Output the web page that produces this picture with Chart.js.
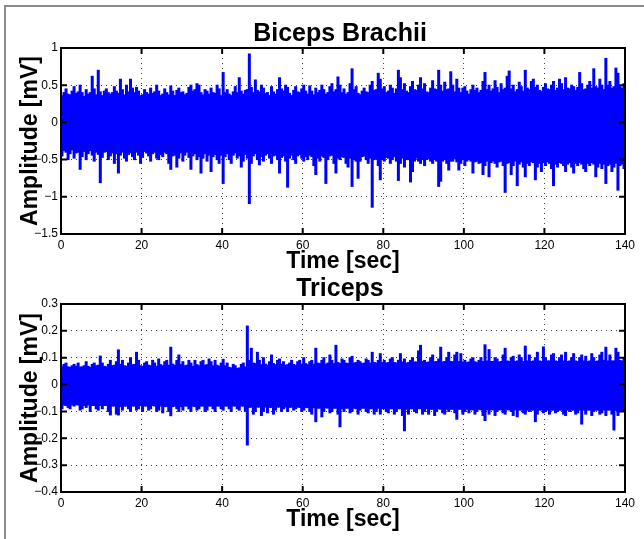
<!DOCTYPE html>
<html>
<head>
<meta charset="utf-8">
<title>Biceps / Triceps EMG</title>
<script src="https://cdn.jsdelivr.net/npm/chart.js@4.4.0/dist/chart.umd.min.js"></script>
<style>
html, body { margin: 0; padding: 0; background: #fff; overflow: hidden; width: 644px; height: 539px; }
#frame { position: absolute; left: 4px; top: 5px; width: 700px; height: 600px;
         border-left: 2px solid #8a8a8a; border-top: 2px solid #8a8a8a; }
canvas { position: absolute; left: 0; }
#chartTop { top: 0; }
#chartBot { top: 260px; }
</style>
</head>
<body>
<div id="frame"></div>
<canvas id="chartTop" width="680" height="280"></canvas>
<canvas id="chartBot" width="680" height="279"></canvas>
<script>
// 눈금값
var timeTicks = [0, 20, 40, 60, 80, 100, 120, 140];
var bicepsTicks = [-1.5, -1, -0.5, 0, 0.5, 1];
var tricepsTicks = [-0.4, -0.3, -0.2, -0.1, 0, 0.1, 0.2, 0.3];
var binSec = 0.5; // 구간 길이(초)

// 0.5초 구간별 최대/최소 (Biceps Brachii)
var bicepsHi = [
	0.36, 0.40, 0.45, 0.38, 0.37, 0.42, 0.48, 0.39, 0.41, 0.50, 0.40, 0.35, 0.44, 0.38, 0.40, 0.62, 0.45, 0.37, 0.70, 0.41,
	0.36, 0.42, 0.45, 0.40, 0.38, 0.40, 0.48, 0.42, 0.39, 0.58, 0.44, 0.37, 0.50, 0.41, 0.58, 0.46, 0.40, 0.47, 0.42, 0.36,
	0.37, 0.44, 0.40, 0.38, 0.46, 0.39, 0.41, 0.50, 0.42, 0.36, 0.38, 0.45, 0.40, 0.37, 0.49, 0.42, 0.36, 0.43, 0.46, 0.40,
	0.41, 0.37, 0.39, 0.47, 0.50, 0.42, 0.44, 0.52, 0.50, 0.40, 0.37, 0.44, 0.42, 0.38, 0.46, 0.40, 0.39, 0.50, 0.45, 0.36,
	0.67, 0.40, 0.44, 0.38, 0.36, 0.41, 0.48, 0.40, 0.60, 0.42, 0.38, 0.43, 0.44, 0.92, 0.47, 0.40, 0.57, 0.43, 0.41, 0.50,
	0.46, 0.39, 0.40, 0.36, 0.48, 0.41, 0.38, 0.44, 0.60, 0.45, 0.42, 0.50, 0.47, 0.39, 0.36, 0.43, 0.48, 0.41, 0.40, 0.45,
	0.50, 0.42, 0.38, 0.49, 0.42, 0.37, 0.46, 0.40, 0.43, 0.50, 0.44, 0.38, 0.40, 0.48, 0.52, 0.41, 0.44, 0.61, 0.50, 0.40,
	0.45, 0.38, 0.40, 0.52, 0.72, 0.44, 0.48, 0.39, 0.37, 0.42, 0.46, 0.41, 0.40, 0.50, 0.55, 0.43, 0.44, 0.66, 0.58, 0.45,
	0.48, 0.40, 0.42, 0.50, 0.46, 0.39, 0.45, 0.70, 0.60, 0.44, 0.52, 0.42, 0.40, 0.48, 0.55, 0.44, 0.43, 0.50, 0.60, 0.45,
	0.52, 0.41, 0.40, 0.46, 0.56, 0.45, 0.44, 0.70, 0.50, 0.42, 0.54, 0.44, 0.45, 0.68, 0.50, 0.41, 0.58, 0.46, 0.40, 0.46,
	0.48, 0.42, 0.38, 0.44, 0.50, 0.43, 0.46, 0.40, 0.43, 0.55, 0.67, 0.44, 0.50, 0.42, 0.45, 0.56, 0.47, 0.40, 0.52, 0.44,
	0.46, 0.62, 0.69, 0.45, 0.50, 0.41, 0.44, 0.54, 0.48, 0.42, 0.70, 0.46, 0.44, 0.55, 0.58, 0.47, 0.50, 0.43, 0.42, 0.47,
	0.52, 0.45, 0.44, 0.50, 0.55, 0.43, 0.46, 0.58, 0.52, 0.44, 0.60, 0.46, 0.45, 0.50, 0.48, 0.43, 0.47, 0.67, 0.52, 0.44,
	0.45, 0.50, 0.55, 0.46, 0.72, 0.48, 0.46, 0.58, 0.50, 0.44, 0.86, 0.50, 0.55, 0.46, 0.48, 0.73, 0.66, 0.50, 0.46, 0.52
];
var bicepsLo = [
	-0.45, -0.38, -0.40, -0.50, -0.42, -0.37, -0.48, -0.41, -0.40, -0.63, -0.46, -0.39, -0.50, -0.42, -0.38, -0.44, -0.52, -0.40, -0.43, -0.81,
	-0.47, -0.40, -0.39, -0.50, -0.45, -0.41, -0.55, -0.42, -0.68, -0.44, -0.40, -0.48, -0.52, -0.43, -0.41, -0.46, -0.50, -0.40, -0.44, -0.55,
	-0.47, -0.39, -0.41, -0.45, -0.52, -0.42, -0.40, -0.48, -0.50, -0.43, -0.46, -0.40, -0.42, -0.55, -0.63, -0.45, -0.44, -0.60, -0.48, -0.41,
	-0.52, -0.44, -0.40, -0.47, -0.63, -0.45, -0.42, -0.50, -0.46, -0.68, -0.48, -0.42, -0.52, -0.44, -0.66, -0.46, -0.43, -0.50, -0.55, -0.44,
	-0.82, -0.46, -0.42, -0.50, -0.55, -0.44, -0.41, -0.48, -0.45, -0.60, -0.52, -0.43, -0.48, -1.09, -0.55, -0.45, -0.42, -0.50, -0.57, -0.46,
	-0.52, -0.44, -0.42, -0.48, -0.55, -0.45, -0.44, -0.50, -0.68, -0.47, -0.45, -0.52, -0.87, -0.48, -0.44, -0.50, -0.55, -0.45, -0.43, -0.48,
	-0.52, -0.46, -0.50, -0.44, -0.46, -0.58, -0.70, -0.48, -0.52, -0.45, -0.47, -0.82, -0.50, -0.45, -0.44, -0.55, -0.68, -0.48, -0.50, -0.46,
	-0.47, -0.55, -0.60, -0.48, -0.86, -0.50, -0.52, -0.75, -0.52, -0.46, -0.45, -0.50, -0.55, -0.48, -1.14, -0.50, -0.49, -0.58, -0.77, -0.50,
	-0.52, -0.47, -0.48, -0.55, -0.50, -0.46, -0.52, -0.78, -0.55, -0.48, -0.60, -0.50, -0.50, -0.80, -0.66, -0.52, -0.48, -0.52, -0.55, -0.50,
	-0.58, -0.50, -0.49, -0.52, -0.55, -0.50, -0.52, -0.86, -0.79, -0.52, -0.50, -0.55, -0.64, -0.52, -0.52, -0.49, -0.53, -0.64, -0.55, -0.50,
	-0.58, -0.52, -0.50, -0.52, -0.68, -0.53, -0.52, -0.55, -0.54, -0.70, -0.58, -0.52, -0.73, -0.54, -0.52, -0.55, -0.60, -0.53, -0.52, -0.58,
	-0.94, -0.55, -0.54, -0.70, -0.58, -0.52, -0.85, -0.56, -0.53, -0.60, -0.73, -0.55, -0.58, -0.53, -0.54, -0.77, -0.60, -0.55, -0.66, -0.54,
	-0.58, -0.53, -0.55, -0.62, -0.85, -0.56, -0.60, -0.54, -0.55, -0.58, -0.66, -0.56, -0.54, -0.60, -0.68, -0.55, -0.58, -0.54, -0.56, -0.62,
	-0.66, -0.55, -0.58, -0.54, -0.56, -0.73, -0.60, -0.55, -0.62, -0.56, -0.82, -0.58, -0.56, -0.66, -0.60, -0.55, -0.91, -0.58, -0.56, -0.62
];

// 0.5초 구간별 최대/최소 (Triceps)
var tricepsHi = [
	0.068, 0.075, 0.080, 0.066, 0.064, 0.070, 0.075, 0.068, 0.080, 0.065, 0.066, 0.070, 0.085, 0.068, 0.064, 0.075, 0.080, 0.070, 0.072, 0.106,
	0.080, 0.068, 0.066, 0.075, 0.090, 0.070, 0.072, 0.085, 0.129, 0.075, 0.090, 0.070, 0.068, 0.080, 0.100, 0.074, 0.075, 0.120, 0.090, 0.070,
	0.068, 0.080, 0.085, 0.072, 0.070, 0.090, 0.080, 0.068, 0.095, 0.074, 0.070, 0.085, 0.090, 0.072, 0.139, 0.076, 0.072, 0.090, 0.110, 0.075,
	0.085, 0.070, 0.072, 0.090, 0.080, 0.068, 0.090, 0.074, 0.070, 0.085, 0.090, 0.072, 0.074, 0.095, 0.085, 0.070, 0.090, 0.072, 0.068, 0.080,
	0.094, 0.070, 0.080, 0.064, 0.062, 0.075, 0.070, 0.060, 0.062, 0.075, 0.080, 0.066, 0.218, 0.090, 0.135, 0.080, 0.078, 0.120, 0.090, 0.074,
	0.100, 0.076, 0.072, 0.085, 0.110, 0.078, 0.074, 0.090, 0.095, 0.076, 0.085, 0.072, 0.074, 0.080, 0.090, 0.075, 0.072, 0.085, 0.090, 0.076,
	0.100, 0.078, 0.074, 0.085, 0.090, 0.076, 0.135, 0.080, 0.078, 0.090, 0.100, 0.076, 0.080, 0.110, 0.090, 0.078, 0.146, 0.082, 0.078, 0.095,
	0.090, 0.080, 0.078, 0.100, 0.105, 0.080, 0.082, 0.090, 0.085, 0.078, 0.080, 0.095, 0.090, 0.080, 0.120, 0.082, 0.080, 0.090, 0.115, 0.082,
	0.090, 0.080, 0.082, 0.095, 0.100, 0.082, 0.080, 0.090, 0.115, 0.084, 0.095, 0.080, 0.082, 0.090, 0.100, 0.084, 0.084, 0.125, 0.146, 0.086,
	0.090, 0.082, 0.084, 0.100, 0.110, 0.085, 0.086, 0.095, 0.139, 0.084, 0.086, 0.100, 0.120, 0.086, 0.085, 0.110, 0.120, 0.086, 0.115, 0.084,
	0.090, 0.082, 0.084, 0.095, 0.100, 0.085, 0.082, 0.090, 0.100, 0.086, 0.148, 0.088, 0.130, 0.086, 0.086, 0.100, 0.095, 0.084, 0.086, 0.110,
	0.135, 0.088, 0.086, 0.100, 0.105, 0.086, 0.088, 0.110, 0.100, 0.086, 0.143, 0.088, 0.110, 0.086, 0.088, 0.100, 0.120, 0.088, 0.086, 0.140,
	0.100, 0.088, 0.088, 0.110, 0.115, 0.088, 0.086, 0.100, 0.110, 0.088, 0.120, 0.086, 0.088, 0.100, 0.115, 0.088, 0.086, 0.100, 0.110, 0.088,
	0.105, 0.086, 0.088, 0.115, 0.100, 0.086, 0.088, 0.110, 0.120, 0.090, 0.139, 0.088, 0.110, 0.088, 0.088, 0.135, 0.120, 0.090, 0.088, 0.100
];
var tricepsLo = [
	-0.090, -0.076, -0.078, -0.085, -0.090, -0.076, -0.080, -0.075, -0.076, -0.095, -0.090, -0.078, -0.085, -0.076, -0.100, -0.078, -0.078, -0.090, -0.095, -0.078,
	-0.090, -0.078, -0.078, -0.100, -0.113, -0.080, -0.080, -0.110, -0.113, -0.082, -0.095, -0.080, -0.080, -0.090, -0.100, -0.080, -0.080, -0.095, -0.090, -0.078,
	-0.100, -0.080, -0.080, -0.095, -0.090, -0.078, -0.080, -0.100, -0.095, -0.080, -0.105, -0.082, -0.082, -0.100, -0.116, -0.082, -0.080, -0.090, -0.100, -0.082,
	-0.095, -0.080, -0.080, -0.090, -0.100, -0.080, -0.082, -0.095, -0.090, -0.080, -0.080, -0.100, -0.095, -0.080, -0.080, -0.090, -0.100, -0.080, -0.080, -0.090,
	-0.095, -0.080, -0.080, -0.090, -0.100, -0.080, -0.080, -0.090, -0.095, -0.080, -0.080, -0.100, -0.225, -0.085, -0.084, -0.110, -0.100, -0.084, -0.084, -0.115,
	-0.100, -0.084, -0.105, -0.085, -0.085, -0.110, -0.095, -0.084, -0.084, -0.100, -0.090, -0.084, -0.100, -0.085, -0.084, -0.095, -0.090, -0.084, -0.085, -0.100,
	-0.095, -0.085, -0.086, -0.100, -0.110, -0.086, -0.138, -0.088, -0.088, -0.120, -0.100, -0.086, -0.088, -0.105, -0.100, -0.088, -0.088, -0.110, -0.157, -0.090,
	-0.100, -0.088, -0.088, -0.105, -0.100, -0.088, -0.090, -0.110, -0.095, -0.088, -0.088, -0.100, -0.105, -0.090, -0.090, -0.110, -0.100, -0.088, -0.110, -0.090,
	-0.090, -0.100, -0.105, -0.090, -0.090, -0.110, -0.100, -0.090, -0.090, -0.115, -0.172, -0.092, -0.110, -0.090, -0.090, -0.100, -0.105, -0.090, -0.090, -0.110,
	-0.100, -0.090, -0.110, -0.092, -0.092, -0.115, -0.100, -0.090, -0.092, -0.105, -0.110, -0.092, -0.100, -0.092, -0.092, -0.105, -0.129, -0.092, -0.092, -0.110,
	-0.100, -0.092, -0.105, -0.094, -0.094, -0.110, -0.100, -0.092, -0.094, -0.115, -0.134, -0.094, -0.110, -0.094, -0.094, -0.115, -0.100, -0.094, -0.094, -0.105,
	-0.110, -0.094, -0.094, -0.100, -0.115, -0.094, -0.120, -0.095, -0.095, -0.105, -0.110, -0.095, -0.100, -0.095, -0.095, -0.138, -0.110, -0.095, -0.095, -0.105,
	-0.100, -0.095, -0.110, -0.095, -0.095, -0.105, -0.100, -0.095, -0.095, -0.110, -0.115, -0.095, -0.100, -0.095, -0.095, -0.110, -0.105, -0.095, -0.147, -0.095,
	-0.110, -0.095, -0.095, -0.115, -0.100, -0.095, -0.095, -0.110, -0.105, -0.095, -0.115, -0.095, -0.095, -0.110, -0.169, -0.096, -0.115, -0.096, -0.096, -0.100
];

var blue = '#0000ff';
var fontFamily = "'Liberation Sans', Arial, Helvetica, sans-serif";
var tickFont = { family: fontFamily, size: 12, lineHeight: 1.2 };
var labelFont = { family: fontFamily, size: 23, weight: 'bold', lineHeight: 1 };
var titleFont = { family: fontFamily, size: 25, weight: 'bold', lineHeight: 1 };
var gridColor = 'rgba(0,0,0,0.75)';

function fmtTick(v) {
	var r = Math.round(v * 10) / 10;
	return (r < 0 ? '\u2212' : '') + Math.abs(r);
}

// MATLAB 스타일 박스 + 안쪽 눈금
var boxPlugin = {
	id: 'matlabBox',
	afterDatasetsDraw: function(chart) {
		var ctx = chart.ctx, a = chart.chartArea, x = chart.scales.x, y = chart.scales.y;
		var len = 6;
		ctx.save();
		ctx.strokeStyle = '#000';
		ctx.lineWidth = 2;
		ctx.beginPath();
		x.ticks.forEach(function(t) {
			var px = x.getPixelForValue(t.value);
			ctx.moveTo(px, a.top); ctx.lineTo(px, a.top + len);
			ctx.moveTo(px, a.bottom); ctx.lineTo(px, a.bottom - len);
		});
		y.ticks.forEach(function(t) {
			var py = y.getPixelForValue(t.value);
			ctx.moveTo(a.left, py); ctx.lineTo(a.left + len, py);
			ctx.moveTo(a.right, py); ctx.lineTo(a.right - len, py);
		});
		ctx.stroke();
		ctx.strokeRect(a.left, a.top, a.right - a.left, a.bottom - a.top);
		ctx.restore();
	}
};

// 구간마다 [최소, 최대] 막대 하나 (구간 폭만큼 붙여서 그림)
function makeDatasets(hi, lo) {
	var bins = [];
	for (var i = 0; i < hi.length; i++) {
		bins.push({ x: (i + 0.5) * binSec, y: [lo[i], hi[i]] });
	}
	return [{
		type: 'bar', data: bins, backgroundColor: blue, borderWidth: 0,
		barPercentage: 1, categoryPercentage: 1, grouped: false, inflateAmount: 0.5
	}];
}

function makeChart(canvasId, title, yTicks, datasets, pad) {
	return new Chart(document.getElementById(canvasId), {
		type: 'line',
		data: { datasets: datasets },
		plugins: [boxPlugin],
		options: {
			responsive: false,
			animation: false,
			devicePixelRatio: 1,
			layout: { padding: 0 },
			plugins: {
				legend: { display: false },
				tooltip: { enabled: false },
				title: {
					display: true, text: title, color: '#000', font: titleFont,
					fullSize: true, padding: { top: pad.titleTop, bottom: pad.titleBottom }
				}
			},
			scales: {
				x: {
					type: 'linear', position: 'bottom', offset: false,
					min: timeTicks[0], max: timeTicks[timeTicks.length - 1],
					afterBuildTicks: function(s) { s.ticks = timeTicks.map(function(v) { return { value: v }; }); },
					afterFit: function(s) { s.height = pad.xAxisHeight; },
					grid: { color: gridColor, lineWidth: 1, drawTicks: false, offset: false },
					border: { display: false, dash: [1, 4] },
					ticks: { padding: 4.5, maxRotation: 0, color: '#000', font: tickFont, callback: function(v) { return String(v); } },
					title: { display: true, text: 'Time [sec]', color: '#000', font: labelFont, padding: { top: 0, bottom: pad.xTitleBottom } }
				},
				y: {
					type: 'linear', position: 'left',
					min: yTicks[0], max: yTicks[yTicks.length - 1],
					afterBuildTicks: function(s) { s.ticks = yTicks.map(function(v) { return { value: v }; }); },
					afterFit: function(s) { s.width = 61; },
					grid: { color: gridColor, lineWidth: 1, drawTicks: false },
					border: { display: false, dash: [1, 4] },
					ticks: { padding: 3, color: '#000', font: tickFont, callback: fmtTick },
					title: { display: true, text: 'Amplitude [mV]', color: '#000', font: labelFont, padding: { top: 19.5, bottom: 0 } }
				},
				// 오른쪽 여백용 빈 축
				yRight: {
					type: 'linear', position: 'right', display: true,
					afterFit: function(s) { s.width = 55; },
					ticks: { display: false },
					grid: { display: false },
					border: { display: false }
				}
			}
		}
	});
}

makeChart('chartTop', 'Biceps Brachii', bicepsTicks,
	makeDatasets(bicepsHi, bicepsLo),
	{ titleTop: 22, titleBottom: 1, xAxisHeight: 46, xTitleBottom: 6.5 });

makeChart('chartBot', 'Triceps', tricepsTicks,
	makeDatasets(tricepsHi, tricepsLo),
	{ titleTop: 17, titleBottom: 2, xAxisHeight: 47, xTitleBottom: 7.8 });
</script>
</body>
</html>
